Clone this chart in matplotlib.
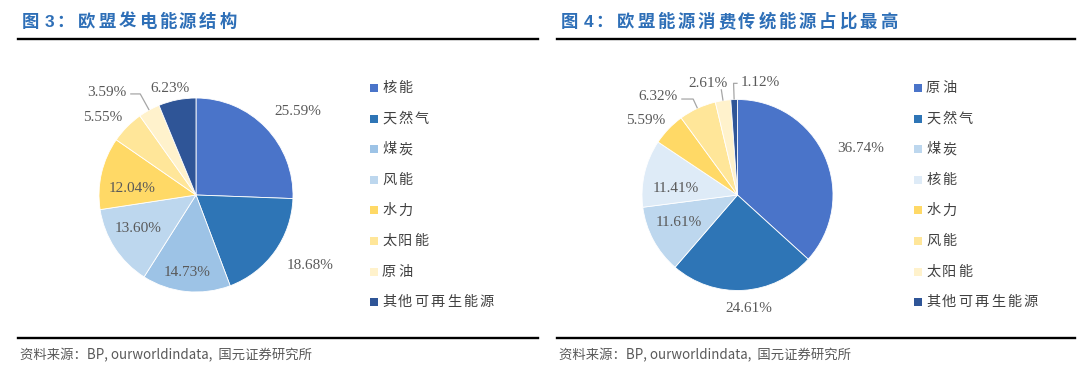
import matplotlib
matplotlib.use('Agg')
import matplotlib.pyplot as plt
from matplotlib.patches import Rectangle
import numpy as np

plt.rcParams['font.family'] = ['Noto Sans CJK SC', 'DejaVu Sans']

# 图3 欧盟发电能源结构
power_labels = ['核能', '天然气', '煤炭', '风能', '水力', '太阳能', '原油', '其他可再生能源']
power_share = [25.59, 18.68, 14.73, 13.60, 12.04, 5.55, 3.59, 6.23]

# 图4 欧盟能源消费传统能源占比最高
use_labels = ['原油', '天然气', '煤炭', '核能', '水力', '风能', '太阳能', '其他可再生能源']
use_share = [36.74, 24.61, 11.61, 11.41, 5.59, 6.32, 2.61, 1.12]

fig_nums = ['3', '4']
titles = ['欧盟发电能源结构', '欧盟能源消费传统能源占比最高']
source = '资料来源：BP, ourworldindata,  国元证券研究所'

# colours
power_colors = ['#4A74C9', '#2E75B6', '#9DC3E6', '#BDD7EE', '#FFD966', '#FFE699', '#FFF2CC', '#2F5597']
use_colors = ['#4A74C9', '#2E75B6', '#BDD7EE', '#DEEBF7', '#FFD966', '#FFE699', '#FFF2CC', '#2F5597']

# label layout: distance from centre (radius units), angle shift from wedge middle
power_dist = [1.36, 1.38, 0.80, 0.69, 0.66, 1.25, 1.40, 1.13]
power_shift = [-4.4, 4.1, -0.8, -3.1, 6.8, 5.1, 12.1, 2.5]
power_leaders = {6: 1.19}
use_dist = [1.38, 1.19, 0.68, 0.65, 1.24, 1.32, 1.21, 1.20]
use_shift = [-3.0, 2.2, -3.2, 6.8, 4.6, 14.1, 6.3, -13.6]
use_leaders = {5: 1.107, 6: 1.12, 7: 1.17}

W, H = 1080, 374
fig = plt.figure(figsize=(W / 100, H / 100), dpi=100)

# overlay in pixel coordinates for titles, rules, legends
bg = fig.add_axes([0, 0, 1, 1])
bg.set_xlim(0, W)
bg.set_ylim(H, 0)
bg.axis('off')


def pie_panel(cx, cy, r, values, colors, dist, shift, leaders):
    span = 1.6
    ax = fig.add_axes([(cx - span * r) / W, (H - cy - span * r) / H,
                       2 * span * r / W, 2 * span * r / H])
    wedges, _ = ax.pie(values, colors=colors, startangle=90, counterclock=False,
                       radius=1, wedgeprops=dict(edgecolor='white', linewidth=0.6))
    ax.set_xlim(-span, span)
    ax.set_ylim(-span, span)
    ax.set_aspect('equal')
    ax.axis('off')
    for i, (w, v) in enumerate(zip(wedges, values)):
        mid = np.deg2rad((w.theta1 + w.theta2) / 2)
        ang = mid + np.deg2rad(shift[i])
        lx, ly = dist[i] * np.cos(ang), dist[i] * np.sin(ang)
        ax.text(lx, ly, f'{v:.2f}%', ha='center', va='center', fontsize=11,
                color='#595959', family='Liberation Serif')
        if i in leaders:
            er = leaders[i]
            xs = [np.cos(mid), er * np.cos(mid)]
            ys = [np.sin(mid), er * np.sin(mid)]
            end_x = lx + (0.24 if lx < xs[-1] else -0.24)
            if abs(end_x - lx) < abs(xs[-1] - lx):
                xs.append(end_x)
                ys.append(ys[-1])
            ax.plot(xs, ys, color='#A6A6A6', lw=0.9, solid_capstyle='butt')
    return ax


pie_panel(196, 195, 97, power_share, power_colors, power_dist, power_shift, power_leaders)
pie_panel(737.5, 195, 95.5, use_share, use_colors, use_dist, use_shift, use_leaders)


def legend(mx, labels, colors):
    for i, (lab, c) in enumerate(zip(labels, colors)):
        y = 88 + 30.6 * i
        bg.add_patch(Rectangle((mx - 4, y - 4), 8, 8, facecolor=c, edgecolor='none'))
        # spaced characters, like the original report
        for k, ch in enumerate(lab):
            bg.text(mx + 8 + 16.2 * k, y, ch, ha='left', va='center',
                    fontsize=10.2, color='#404040')


legend(374, power_labels, power_colors)
legend(918, use_labels, use_colors)

title_color = '#2E6FB7'
for x0, x1, num, t in [(18, 538, fig_nums[0], titles[0]), (557, 1075, fig_nums[1], titles[1])]:
    bg.text(x0 + 4, 22, '图', ha='left', va='center', fontsize=12.5, fontweight='bold', color=title_color)
    bg.text(x0 + 27, 22.5, num, ha='left', va='center', fontsize=12.5, fontweight='bold',
            color=title_color, family='Liberation Sans')
    bg.text(x0 + 38, 22, '：', ha='left', va='center', fontsize=12.5, fontweight='bold', color=title_color)
    for k, ch in enumerate(t):
        bg.text(x0 + 60 + 20.2 * k, 22, ch, ha='left', va='center', fontsize=12.5,
                fontweight='bold', color=title_color)
    bg.plot([x0, x1], [39, 39], color='black', lw=1.7)
    bg.plot([x0, x1], [338, 338], color='black', lw=1.7)
    bg.text(x0 + 2, 355, source, ha='left', va='center', fontsize=9.6, color='#595959')

fig.savefig('out.png', dpi=100)
